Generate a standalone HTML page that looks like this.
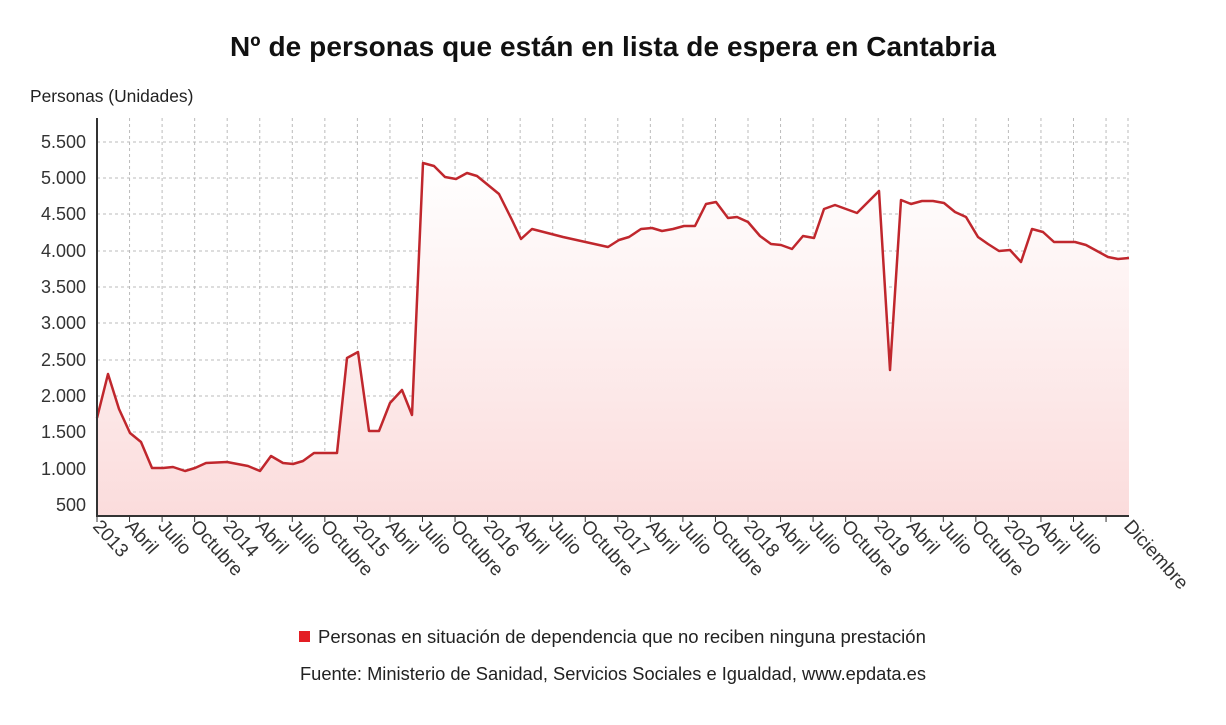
<!DOCTYPE html>
<html><head><meta charset="utf-8"><style>
body{margin:0;background:#fff;width:1226px;height:720px;overflow:hidden;font-family:"Liberation Sans",sans-serif}
</style></head><body>
<svg width="1226" height="720" viewBox="0 0 1226 720" xmlns="http://www.w3.org/2000/svg" font-family="Liberation Sans, sans-serif">
<defs><linearGradient id="g" x1="0" y1="0" x2="0" y2="1"><stop offset="0" stop-color="#fff"/><stop offset="1" stop-color="#fbdcdc"/></linearGradient></defs>
<text x="613" y="56" text-anchor="middle" font-size="28" font-weight="bold" fill="#111" textLength="766">Nº de personas que están en lista de espera en Cantabria</text>
<text x="30" y="102" font-size="17.4" fill="#222">Personas (Unidades)</text>
<g stroke="#bbb" stroke-dasharray="3,3" stroke-width="1">
<line x1="97" x2="1128" y1="505" y2="505"/><line x1="97" x2="1128" y1="469" y2="469"/><line x1="97" x2="1128" y1="432" y2="432"/><line x1="97" x2="1128" y1="396" y2="396"/><line x1="97" x2="1128" y1="360" y2="360"/><line x1="97" x2="1128" y1="323" y2="323"/><line x1="97" x2="1128" y1="287" y2="287"/><line x1="97" x2="1128" y1="251" y2="251"/><line x1="97" x2="1128" y1="214" y2="214"/><line x1="97" x2="1128" y1="178" y2="178"/><line x1="97" x2="1128" y1="142" y2="142"/>
</g>
<g id="vg" stroke="#bbb" stroke-dasharray="3,3" stroke-width="1"></g>
<polygon id="area" fill="url(#g)"/>
<polyline id="ln" fill="none" stroke="#c0272d" stroke-width="2.5" stroke-linejoin="round"/>
<g font-size="18" fill="#333" text-anchor="end">
<text x="86" y="511">500</text><text x="86" y="475">1.000</text><text x="86" y="438">1.500</text><text x="86" y="402">2.000</text><text x="86" y="366">2.500</text><text x="86" y="329">3.000</text><text x="86" y="293">3.500</text><text x="86" y="257">4.000</text><text x="86" y="220">4.500</text><text x="86" y="184">5.000</text><text x="86" y="148">5.500</text>
</g>
<line x1="97" y1="118" x2="97" y2="517" stroke="#333" stroke-width="2"/>
<line x1="96" y1="516" x2="1129" y2="516" stroke="#333" stroke-width="2"/>
<g id="xl" font-size="19" fill="#333"></g>
<rect x="299" y="631" width="11" height="11" fill="#e31e24"/>
<text x="318" y="643" font-size="18.5" fill="#222">Personas en situación de dependencia que no reciben ninguna prestación</text>
<text x="613" y="680" text-anchor="middle" font-size="18.3" fill="#222">Fuente: Ministerio de Sanidad, Servicios Sociales e Igualdad, www.epdata.es</text>
</svg>
<script>
var p=[[97,418],[108,374],[119,409],[130,433],[141,442],[152,468],[163,468],[173,467],[185,471],[195,468],[206,463],[227,462],[248,466],[260,471],[271,456],[283,463],[293,464],[303,461],[314,453],[337,453],[347,358],[358,352],[369,431],[379,431],[390,403],[402,390],[412,415],[423,163],[434,166],[445,177],[456,179],[467,173],[477,176],[488,185],[499,194],[512,220],[521,239],[532,229],[563,237],[608,247],[619,240],[629,237],[641,229],[652,228],[662,231],[673,229],[684,226],[695,226],[706,204],[716,202],[728,218],[737,217],[748,222],[760,236],[771,244],[781,245],[792,249],[803,236],[814,238],[824,209],[835,205],[846,209],[857,213],[868,202],[879,191],[890,370],[901,200],[911,204],[922,201],[933,201],[944,203],[955,212],[966,217],[978,237],[988,244],[999,251],[1010,250],[1021,262],[1032,229],[1043,232],[1054,242],[1075,242],[1086,245],[1097,251],[1108,257],[1118,259],[1129,258]];
var s=p.map(function(a){return a.join(',')}).join(' ');
document.getElementById('ln').setAttribute('points',s);
document.getElementById('area').setAttribute('points','97,516 '+s+' 1129,516');
var names=['','Abril','Julio','Octubre'],vg='',xl='';
for(var i=0;i<32;i++){var x=97+i*32.55;var y=2013+Math.floor(i/4);var t=i%4==0?y:names[i%4];
if(i>0)vg+='<line x1="'+x+'" x2="'+x+'" y1="118" y2="516"/>';
xl+='<line x1="'+x+'" x2="'+x+'" y1="516" y2="522" stroke="#333"/>';
if(i<31)xl+='<text transform="translate('+(x-5)+',527) rotate(48)">'+t+'</text>';}
vg+='<line x1="1128" x2="1128" y1="118" y2="516"/>';
xl+='<text transform="translate(1123,527) rotate(48)">Diciembre</text>';
document.getElementById('vg').innerHTML=vg;document.getElementById('xl').innerHTML=xl;
</script>
</body></html>
